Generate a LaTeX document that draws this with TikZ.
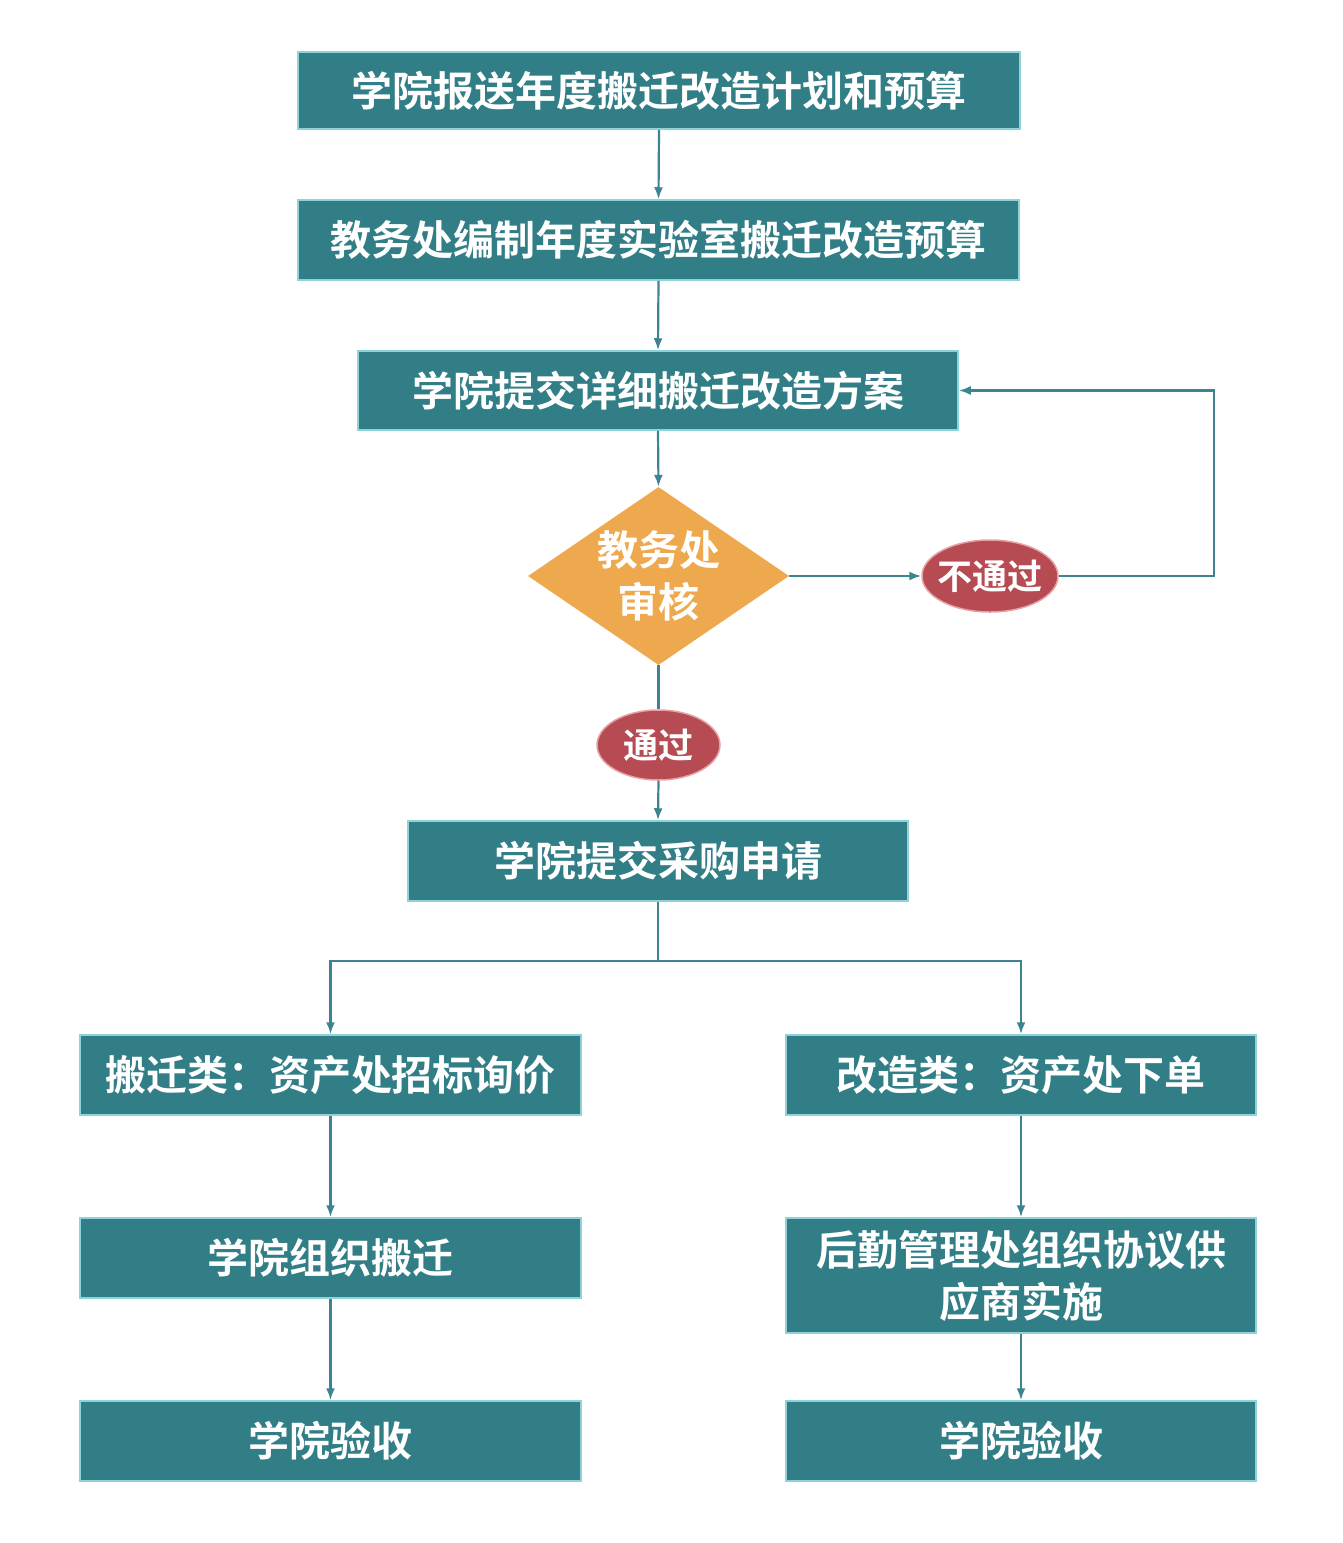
\documentclass[tikz,border=0pt]{standalone}
\usepackage{fontspec}
\newfontfamily\cjk{Noto Sans CJK SC}[BoldFont={Noto Sans CJK SC Bold}]
\usetikzlibrary{shapes.geometric,arrows.meta}
\definecolor{boxfill}{HTML}{317E87}
\definecolor{boxline}{HTML}{8ED3DA}
\definecolor{diafill}{HTML}{EEA94E}
\definecolor{ellfill}{HTML}{B64B53}
\definecolor{ellline}{HTML}{E8A0A4}
\definecolor{conn}{HTML}{3C8590}
\tikzset{
  stepbox/.style={rectangle, draw=boxline, line width=1.5pt, fill=boxfill, text=white,
    font=\cjk\bfseries\fontsize{41}{52}\selectfont, align=center, inner sep=0pt},
  decide/.style={diamond, fill=diafill, text=white, font=\cjk\bfseries\fontsize{41}{52}\selectfont,
    align=center, inner sep=0pt, aspect=1.466},
  verdict/.style={ellipse, draw=ellline, line width=1.5pt, fill=ellfill, text=white,
    font=\cjk\bfseries\fontsize{35}{40}\selectfont, inner xsep=-6pt, inner ysep=-4pt},
  conline/.style={draw=conn, line width=2.2pt},
  arr/.style={conline, -{Latex[length=12pt,width=9pt]}}
}
\begin{document}
\begin{tikzpicture}[x=1pt,y=-1pt]
\useasboundingbox (0,0) rectangle (1343,1543);
\node[stepbox, minimum width=722pt, minimum height=77pt] (b1) at (659,90.5) {学院报送年度搬迁改造计划和预算};
\node[stepbox, minimum width=721pt, minimum height=80pt] (b2) at (658.5,240) {教务处编制年度实验室搬迁改造预算};
\node[stepbox, minimum width=600pt, minimum height=79pt] (b3) at (658,390.5) {学院提交详细搬迁改造方案};
\node[decide, minimum width=261pt, minimum height=178pt] (d) at (658.5,576) {教务处\\审核};
\node[verdict, minimum width=136pt, minimum height=72pt] (no) at (990,576) {不通过};
\node[verdict, minimum width=123pt, minimum height=70pt] (yes) at (658.5,745) {通过};
\node[stepbox, minimum width=500pt, minimum height=80pt] (b4) at (658,861) {学院提交采购申请};
\node[stepbox, minimum width=501pt, minimum height=80pt] (b5) at (330.5,1075) {搬迁类：资产处招标询价};
\node[stepbox, minimum width=470pt, minimum height=80pt] (b6) at (1021,1075) {改造类：资产处下单};
\node[stepbox, minimum width=501pt, minimum height=80pt] (b7) at (330.5,1258) {学院组织搬迁};
\node[stepbox, minimum width=470pt, minimum height=115pt] (b8) at (1021,1275.5) {后勤管理处组织协议供\\应商实施};
\node[stepbox, minimum width=501pt, minimum height=80pt] (b9) at (330.5,1441) {学院验收};
\node[stepbox, minimum width=470pt, minimum height=80pt] (b10) at (1021,1441) {学院验收};
\coordinate (br) at (658,961);
\coordinate (lp) at (1214,576);
\draw[arr] (b1.south) -- (b2.north);
\draw[arr] (b2.south) -- (b3.north);
\draw[arr] (b3.south) -- (d.north);
\draw[arr] (d.east) -- (no.west);
\draw[arr] (no.east) -- (lp) |- (b3.east);
\draw[conline] (d.south) -- (yes.north);
\draw[arr] (yes.south) -- (b4.north);
\draw[conline] (b4.south) -- (br);
\draw[arr] (br) -| (b5.north);
\draw[arr] (br) -| (b6.north);
\draw[arr] (b5.south) -- (b7.north);
\draw[arr] (b7.south) -- (b9.north);
\draw[arr] (b6.south) -- (b8.north);
\draw[arr] (b8.south) -- (b10.north);
\end{tikzpicture}
\end{document}
